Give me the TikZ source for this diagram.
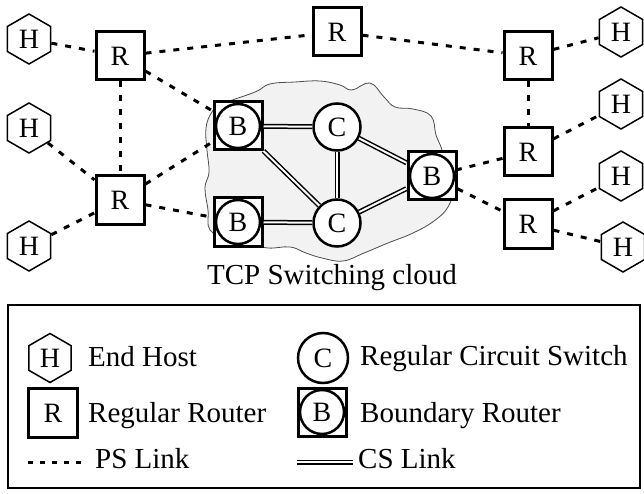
\documentclass[tikz,border=0pt]{standalone}
\usepackage{fontspec}
\setmainfont{Liberation Serif}
\usetikzlibrary{shapes.geometric}

\begin{document}
\begin{tikzpicture}[x=1pt,y=-1pt,font=\fontsize{28}{32}\selectfont,
    host/.style={draw,regular polygon,regular polygon sides=6,shape border rotate=90,
      minimum size=50pt,inner sep=0pt,line width=1.5pt,fill=white},
    router/.style={draw,rectangle,minimum size=48pt,inner sep=0pt,line width=3pt,fill=white},
    switch/.style={draw,circle,minimum size=47pt,inner sep=0pt,line width=2.5pt,fill=white},
    border/.style={router,path picture={\draw[line width=2.5pt]
      (path picture bounding box.center) circle (22pt);}},
    pslink/.style={line width=3pt,dash pattern=on 6pt off 8pt},
    cslink/.style={double,double distance=2pt,line width=1.5pt},
    cloudarea/.style={fill=gray!10,draw=gray!60!black,line width=0.8pt},
    txt/.style={anchor=base west,inner sep=0pt,font=\fontsize{29}{33}\selectfont}]
    \useasboundingbox (0,0) rectangle (644,494);

    % switching cloud
    \draw[cloudarea] plot[smooth cycle,tension=0.7] coordinates {
      (222,104) (255,92) (270,84) (295,82) (320,81) (340,85) (352,90) (370,83)
      (384,97) (395,107) (413,109) (431,116) (436,135) (442,150) (446,170)
      (452,190) (448,207) (434,221) (413,233) (388,243) (364,253) (343,261)
      (322,258) (306,253) (290,247) (268,248) (250,243) (228,238) (210,230)
      (208,210) (205,188) (209,172) (207,150) (206,128) (212,112)};
    \node[txt,anchor=base] (cap) at (332,284) {TCP Switching cloud};

    % hosts
    \node[host] (h1) at (29,39) {H};
    \node[host] (h2) at (29,128) {H};
    \node[host] (h3) at (29,246) {H};
    \node[host] (h4) at (621,32) {H};
    \node[host] (h5) at (621,104) {H};
    \node[host] (h6) at (621,176) {H};
    \node[host] (h7) at (623,247) {H};

    % routers
    \node[router] (r1) at (120,56) {R};
    \node[router] (r2) at (120,200) {R};
    \node[router] (r3) at (337,32) {R};
    \node[router] (r4) at (528,56) {R};
    \node[router] (r5) at (528,152) {R};
    \node[router] (r6) at (528,224) {R};

    % boundary routers and circuit switches
    \node[border] (b1) at (238,126) {B};
    \node[border] (b2) at (238,222) {B};
    \node[border] (b3) at (432,176) {B};
    \node[switch] (c1) at (337,127) {C};
    \node[switch] (c2) at (337,223) {C};

    \path[pslink]
      (h1) edge (r1)
      (h2) edge (r2)
      (h3) edge (r2)
      (r1) edge (r2)
           edge (r3)
           edge (b1)
      (r2) edge (b1)
           edge (b2)
      (r3) edge (r4)
      (r4) edge (h4)
           edge (r5)
      (r5) edge (h5)
           edge (b3)
      (b3) edge (r6)
      (r6) edge (h6)
           edge (h7);
    \draw[cslink] (b1) -- (c1);
    \draw[cslink] (b1) -- (c2);
    \draw[cslink] (c1) -- (c2);
    \draw[cslink] (c1) -- (b3);
    \draw[cslink] (c2) -- (b3);
    \draw[cslink] (c2) -- (b2);

    % legend
    \draw[line width=2.5pt] (8,305) rectangle (640,488);
    \node[host,minimum size=49pt] (lh) at (50,358) {H};
    \node[txt] (lht) at (88,366) {End Host};
    \node[router,minimum size=49pt] (lr) at (53,413) {R};
    \node[txt] (lrt) at (88,422) {Regular Router};
    \coordinate (lpa) at (28,462);
    \coordinate (lpb) at (82,462);
    \draw[pslink,dash pattern=on 5pt off 7pt] (lpa) -- (lpb);
    \node[txt] (lpt) at (95,468) {PS Link};
    \node[switch,minimum size=50pt] (lc) at (323,358) {C};
    \node[txt] (lct) at (360,365) {Regular Circuit Switch};
    \node[border] (lb) at (322,412) {B};
    \node[txt] (lbt) at (360,422) {Boundary Router};
    \coordinate (lsa) at (297,462);
    \coordinate (lsb) at (353,462);
    \draw[cslink] (lsa) -- (lsb);
    \node[txt] (lst) at (358,468) {CS Link};
\end{tikzpicture}
\end{document}
